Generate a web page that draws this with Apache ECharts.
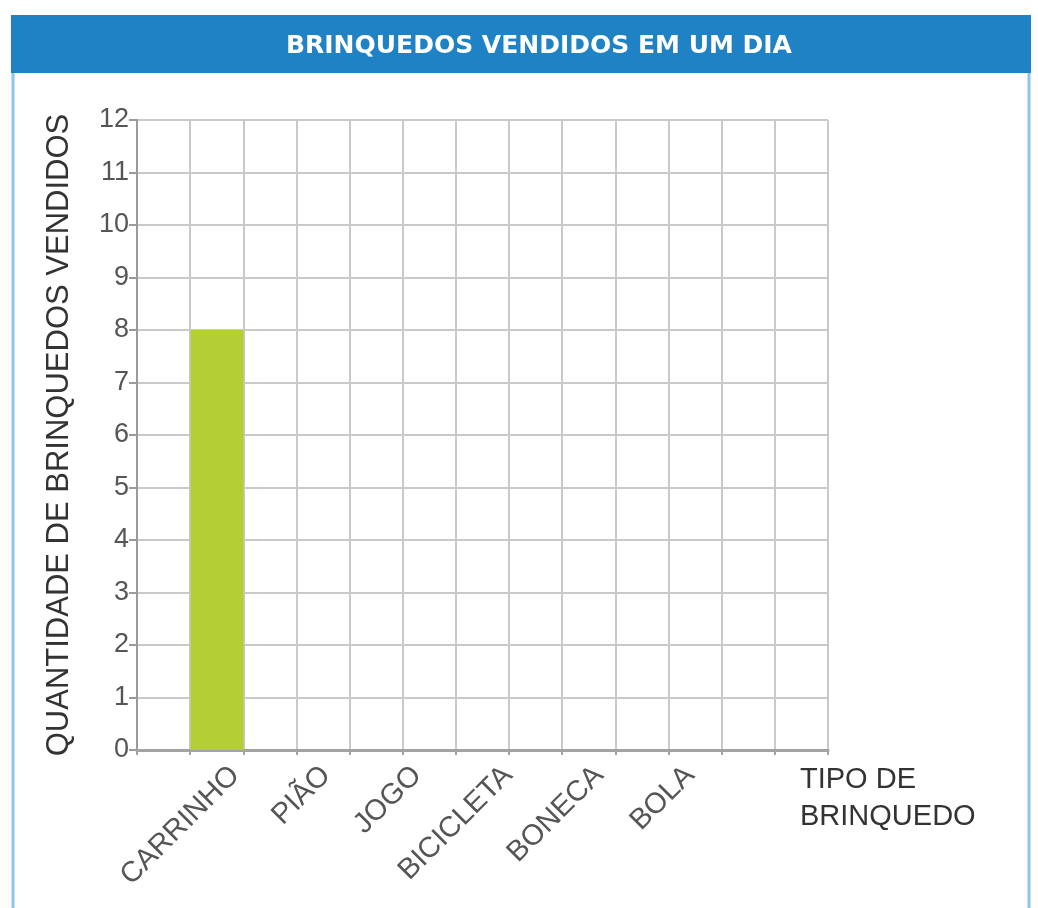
<!DOCTYPE html>
<html>
<head>
<meta charset="utf-8">
<title>Brinquedos vendidos em um dia</title>
<script src="https://cdn.jsdelivr.net/npm/echarts@6/dist/echarts.min.js"></script>
<style>
  html, body { margin: 0; padding: 0; background: #fff; }
  #chart { width: 1038px; height: 908px; }
</style>
</head>
<body>
<div id="chart"></div>
<script>
// dados
const titleText = 'BRINQUEDOS VENDIDOS EM UM DIA';
const toys = ['CARRINHO', 'PIÃO', 'JOGO', 'BICICLETA', 'BONECA', 'BOLA'];
const sold = [8, null, null, null, null, null];
const yTicks = [0, 12, 1]; // min, max, intervalo
const gridColumns = 13;

const chart = echarts.init(document.getElementById('chart'));

const labelFont = 'Liberation Sans, Arial, sans-serif';
const gridColor = '#c9c9c9';

const option = {
  animation: false,
  backgroundColor: '#fff',
  title: {
    text: titleText,
    left: 281,
    top: 29,
    textStyle: {
      color: '#fff',
      fontSize: 25,
      fontWeight: 900,
      fontFamily: 'DejaVu Sans, sans-serif'
    }
  },
  graphic: [
    // faixa azul do cabeçalho
    { type: 'rect', shape: { x: 11, y: 15, width: 1020, height: 58 }, style: { fill: '#1f82c4' }, z: -1 },
    // bordas laterais
    { type: 'line', shape: { x1: 13, y1: 73, x2: 13, y2: 908 }, style: { stroke: '#8ec3ea', lineWidth: 3 } },
    { type: 'line', shape: { x1: 1029, y1: 73, x2: 1029, y2: 908 }, style: { stroke: '#8ec3ea', lineWidth: 3 } }
  ],
  grid: [
    // quadriculado
    { left: 137, right: 210, top: 120, bottom: 158 },
    // barras
    { left: 170.5, right: 309.5, top: 120, bottom: 158 },
    // rótulos das categorias
    { left: 189.5, right: 302.5, top: 120, bottom: 158 }
  ],
  xAxis: [
    {
      type: 'category',
      gridIndex: 0,
      data: new Array(gridColumns).fill(''),
      boundaryGap: true,
      axisLine: { lineStyle: { color: '#a3a3a3', width: 3 } },
      axisTick: { show: true, interval: 0, length: 5, lineStyle: { color: '#a3a3a3', width: 2 } },
      axisLabel: { show: false },
      splitLine: { show: true, interval: 0, lineStyle: { color: gridColor, width: 2 } },
      name: 'TIPO DE\nBRINQUEDO',
      nameLocation: 'end',
      nameGap: -28,
      nameTextStyle: {
        color: '#333',
        fontSize: 29,
        fontFamily: labelFont,
        align: 'left',
        verticalAlign: 'top',
        lineHeight: 37,
        padding: [11, 0, 0, 0]
      }
    },
    {
      type: 'category',
      gridIndex: 1,
      data: toys,
      axisLine: { show: false },
      axisTick: { show: false },
      splitLine: { show: false },
      axisLabel: { show: false }
    },
    {
      type: 'category',
      gridIndex: 2,
      data: toys,
      axisLine: { show: false },
      axisTick: { show: false },
      splitLine: { show: false },
      axisLabel: {
        interval: 0,
        rotate: 45,
        margin: 21,
        color: '#555',
        fontSize: 29,
        fontFamily: labelFont
      }
    }
  ],
  yAxis: [
    {
      type: 'value',
      gridIndex: 0,
      min: yTicks[0],
      max: yTicks[1],
      interval: yTicks[2],
      axisLine: { show: true, lineStyle: { color: '#9a9a9a', width: 2 } },
      axisTick: { show: true, length: 8, lineStyle: { color: '#9a9a9a', width: 2 } },
      axisLabel: { color: '#555', fontSize: 27, fontFamily: labelFont, margin: 8 },
      splitLine: { show: true, lineStyle: { color: gridColor, width: 2 } },
      name: 'QUANTIDADE DE BRINQUEDOS VENDIDOS',
      nameLocation: 'middle',
      nameGap: 62,
      nameTextStyle: { color: '#333', fontSize: 31, fontFamily: labelFont }
    },
    { type: 'value', gridIndex: 1, min: yTicks[0], max: yTicks[1], show: false },
    { type: 'value', gridIndex: 2, min: yTicks[0], max: yTicks[1], show: false }
  ],
  series: [
    {
      type: 'bar',
      xAxisIndex: 1,
      yAxisIndex: 1,
      data: sold,
      barWidth: 53,
      itemStyle: { color: '#b3cf34' },
      z: 3
    }
  ]
};

chart.setOption(option);
</script>
</body>
</html>
